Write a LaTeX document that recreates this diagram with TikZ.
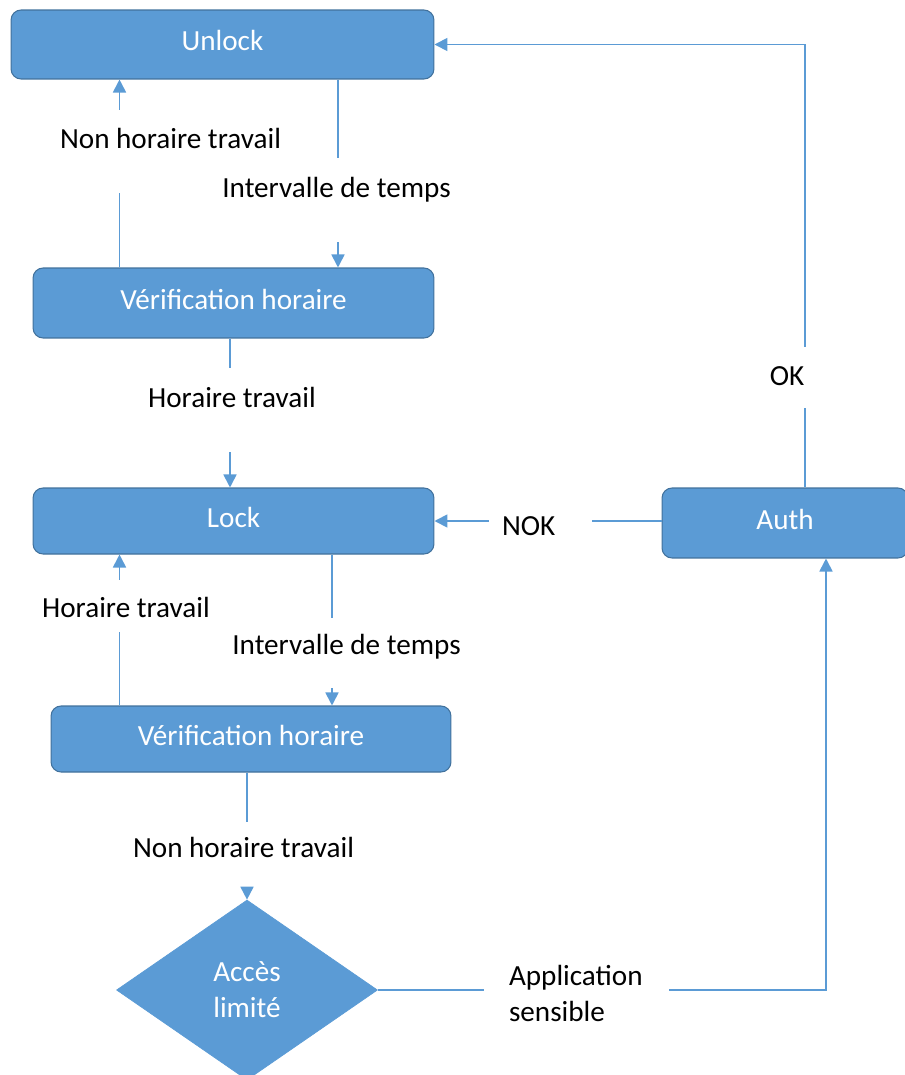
\documentclass[tikz,border=0pt]{standalone}
\usepackage{fontspec}
\setmainfont{Carlito}
\usetikzlibrary{arrows.meta,shapes.geometric}
\definecolor{bleu}{HTML}{5B9BD5}
\definecolor{bordbleu}{HTML}{41719C}
\tikzset{
    etat/.style = {draw = bordbleu, fill = bleu, line width = 0.6pt, rounded corners = 0.2cm,
                   text = white, text depth = 0.16cm, minimum height = 1.32cm},
    cond/.style = {inner sep = 0pt, anchor = base},
    lien/.style = {draw = bleu, line width = 1pt},
    fleche/.style = {lien, -{Triangle[length = 0.26cm, width = 0.26cm]}}
}
\begin{document}
\begin{tikzpicture}[x = 0.02cm, y = -0.02cm, font = \fontsize{16.6}{20.5}\selectfont]
        \useasboundingbox (0, 0) rectangle (904, 1075);
        % etats
        \node[etat, minimum width = 8.46cm, minimum height = 1.38cm] (unlock) at (222.5, 44.5) {Unlock};
        \node[etat, minimum width = 8.02cm, minimum height = 1.4cm] (verif1) at (233.5, 303) {Vérification horaire};
        \node[etat, minimum width = 8.02cm] (lock) at (233.5, 521) {Lock};
        \node[etat, minimum width = 8cm] (verif2) at (251, 739) {Vérification horaire};
        \node[etat, minimum width = 4.92cm, minimum height = 1.4cm] (auth) at (785, 523) {Auth};
        \node[diamond, fill = bleu, draw = bleu, text = white, inner sep = 0pt, align = center,
              minimum width = 5.22cm, minimum height = 3.6cm] (acces) at (247, 990) {Accès\\limité};
        % colonnes des liens
        \coordinate (c1) at (119.5, 0);
        \coordinate (c2) at (338, 0);
        \coordinate (c3) at (230, 0);
        \coordinate (c4) at (332, 0);
        \coordinate (c6) at (805, 0);
        \coordinate (c7) at (826, 0);
        % conditions
        \node[cond, text height = 0.76cm, text depth = 0.9cm] (nht1) at (170.5, 148) {Non horaire travail};
        \node[cond, text height = 0.78cm, text depth = 0.9cm] (int1) at (336.5, 197) {Intervalle de temps};
        \node[cond, text height = 0.78cm, text depth = 0.9cm] (ht1) at (232, 407) {Horaire travail};
        \node[cond, text height = 0.74cm, text depth = 0.3cm] (ht2) at (126, 617) {Horaire travail};
        \node[cond, text height = 0.72cm, text depth = 0.68cm] (int2) at (346.5, 654) {Intervalle de temps};
        \node[cond, text height = 0.7cm, text depth = 0.62cm] (nht2) at (243.5, 857) {Non horaire travail};
        \node[cond, text height = 0.76cm, text depth = 0.46cm] (ok) at (787, 385) {OK};
        \node[cond, text width = 1.54cm, inner xsep = 0.26cm, align = left] (nok) at (540.5, 535) {NOK};
        \node[inner ysep = 0pt, inner xsep = 0.5cm, text width = 2.7cm, align = left] (appli) at (576.5, 993) {Application\\sensible};
        % liens
        \draw[lien] (verif1.north -| c1) -- (nht1.south -| c1);
        \draw[fleche] (nht1.north -| c1) -- (unlock.south -| c1);
        \draw[lien] (unlock.south -| c2) -- (int1.north -| c2);
        \draw[fleche] (int1.south -| c2) -- (verif1.north -| c2);
        \draw[lien] (verif1.south -| c3) -- (ht1.north -| c3);
        \draw[fleche] (ht1.south -| c3) -- (lock.north -| c3);
        \draw[lien] (verif2.north -| c1) -- (ht2.south -| c1);
        \draw[fleche] (ht2.north -| c1) -- (lock.south -| c1);
        \draw[lien] (lock.south -| c4) -- (int2.north -| c4);
        \draw[fleche] (int2.south -| c4) -- (verif2.north -| c4);
        \draw[lien] (verif2.south -| acces) -- (nht2.north -| acces);
        \draw[fleche] (nht2.south -| acces) -- (acces.north);
        \draw[lien] (acces.east) -- (appli.west |- acces.east);
        \draw[fleche] (appli.east |- acces.east) -| (auth.south -| c7);
        \draw[lien] (auth.west |- lock.east) -- (nok.east |- lock.east);
        \draw[fleche] (nok.west |- lock.east) -- (lock.east);
        \draw[lien] (auth.north -| c6) -- (ok.south -| c6);
        \draw[fleche] (ok.north -| c6) |- (unlock.east);
    \end{tikzpicture}
\end{document}
